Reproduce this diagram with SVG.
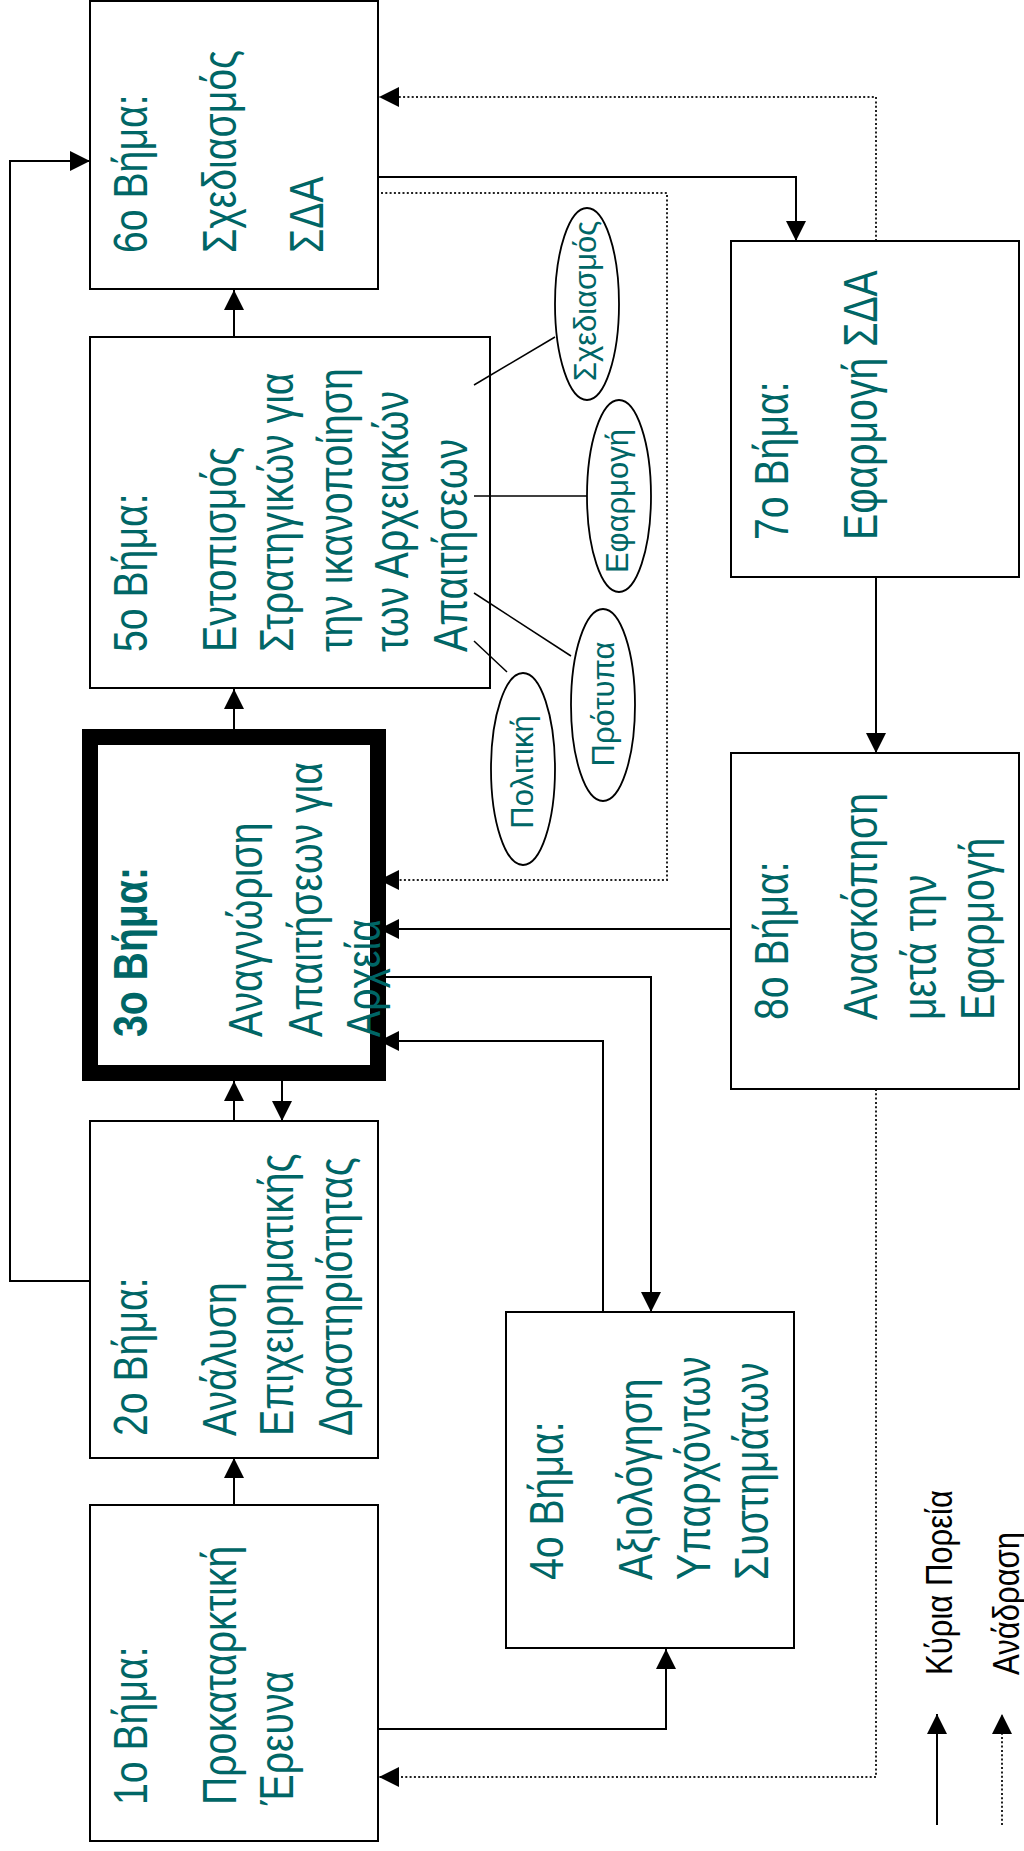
<svg xmlns="http://www.w3.org/2000/svg" width="1024" height="1851" viewBox="0 0 1024 1851">
<defs>
<marker id="ah" markerUnits="userSpaceOnUse" markerWidth="20" markerHeight="20" refX="20" refY="10" orient="auto"><path d="M0,0 L20,10 L0,20 z" fill="#000"/></marker>
<style>
.box{fill:#fff;stroke:#000;stroke-width:2}
.thick{fill:#fff;stroke:#000;stroke-width:16}
.t{font-family:"Liberation Sans",Arial,sans-serif;font-size:49px;fill:#006666}
.b{font-weight:bold}
.e{font-family:"Liberation Sans",Arial,sans-serif;font-size:31px;fill:#006666;text-anchor:middle}
.lg{font-family:"Liberation Sans",Arial,sans-serif;font-size:37px;fill:#000}
.c{fill:none;stroke:#000;stroke-width:2}
.d{fill:none;stroke:#222;stroke-width:2;stroke-dasharray:2 2.3}
.l{fill:none;stroke:#000;stroke-width:1.5}
.ell{fill:#fff;stroke:#000;stroke-width:1.8}
</style>
</defs>
<rect width="1024" height="1851" fill="#fff"/>

<g id="connectors">
<path class="c" d="M234,1505 V1458" marker-end="url(#ah)"/>
<path class="c" d="M234,1121 V1081" marker-end="url(#ah)"/>
<path class="c" d="M282,1081 V1121" marker-end="url(#ah)"/>
<path class="c" d="M234,729 V689" marker-end="url(#ah)"/>
<path class="c" d="M234,337 V290" marker-end="url(#ah)"/>
<path class="c" d="M90,1281 H10 V161 H90" marker-end="url(#ah)"/>
<path class="c" d="M378,177 H796 V241" marker-end="url(#ah)"/>
<path class="c" d="M876,577 V753" marker-end="url(#ah)"/>
<path class="c" d="M731,929 H379" marker-end="url(#ah)"/>
<path class="c" d="M386,977 H651 V1312" marker-end="url(#ah)"/>
<path class="c" d="M603,1312 V1041 H379" marker-end="url(#ah)"/>
<path class="c" d="M378,1729 H666 V1649" marker-end="url(#ah)"/>
<path class="d" d="M876,241 V97 H379" marker-end="url(#ah)"/>
<path class="d" d="M381,193 H667 V880 H379" marker-end="url(#ah)"/>
<path class="d" d="M876,1089 V1777 H379" marker-end="url(#ah)"/>
</g>

<g id="step6">
<rect class="box" x="90" y="1" width="288" height="288"/>
<text class="t" transform="translate(147,253) rotate(-90) scale(0.8,1)">6ο Βήμα:</text>
<text class="t" transform="translate(236,253) rotate(-90) scale(0.8,1)">Σχεδιασμός</text>
<text class="t" transform="translate(323,253) rotate(-90) scale(0.8,1)">ΣΔΑ</text>
</g>

<g id="step5">
<rect class="box" x="90" y="337" width="400" height="351"/>
<text class="t" transform="translate(147,652) rotate(-90) scale(0.8,1)">5ο Βήμα:</text>
<text class="t" transform="translate(236,652) rotate(-90) scale(0.8,1)">Εντοπισμός</text>
<text class="t" transform="translate(293,652) rotate(-90) scale(0.8,1)">Στρατηγικών για</text>
<text class="t" transform="translate(352,652) rotate(-90) scale(0.8,1)">την ικανοποίηση</text>
<text class="t" transform="translate(408,652) rotate(-90) scale(0.8,1)">των Αρχειακών</text>
<text class="t" transform="translate(467,652) rotate(-90) scale(0.8,1)">Απαιτήσεων</text>
</g>

<g id="links">
<path class="l" d="M474,385 L555,337"/>
<path class="l" d="M474,496 L587,496"/>
<path class="l" d="M474,593 L571,656"/>
<path class="l" d="M474,641 L507,672"/>
</g>

<g id="opt-sxediasmos">
<ellipse class="ell" cx="587" cy="304" rx="32" ry="96"/>
<text class="e" transform="translate(596,301) rotate(-90)">Σχεδιασμός</text>
</g>
<g id="opt-efarmogi">
<ellipse class="ell" cx="619" cy="496" rx="32" ry="96"/>
<text class="e" transform="translate(628,501) rotate(-90)">Εφαρμογή</text>
</g>
<g id="opt-protypa">
<ellipse class="ell" cx="603" cy="705" rx="32" ry="96"/>
<text class="e" transform="translate(614,704) rotate(-90)">Πρότυπα</text>
</g>
<g id="opt-politiki">
<ellipse class="ell" cx="523" cy="769" rx="32" ry="96"/>
<text class="e" transform="translate(533,772) rotate(-90)">Πολιτική</text>
</g>

<g id="step3">
<rect class="thick" x="90" y="737" width="288" height="336"/>
<text class="t b" transform="translate(147,1037) rotate(-90) scale(0.8,1)">3ο Βήμα:</text>
<text class="t" transform="translate(262,1037) rotate(-90) scale(0.8,1)">Αναγνώριση</text>
<text class="t" transform="translate(322,1037) rotate(-90) scale(0.8,1)">Απαιτήσεων για</text>
<text class="t" transform="translate(380,1037) rotate(-90) scale(0.8,1)">Αρχεία</text>
</g>

<g id="step2">
<rect class="box" x="90" y="1121" width="288" height="337"/>
<text class="t" transform="translate(147,1436) rotate(-90) scale(0.8,1)">2ο Βήμα:</text>
<text class="t" transform="translate(236,1436) rotate(-90) scale(0.8,1)">Ανάλυση</text>
<text class="t" transform="translate(293,1436) rotate(-90) scale(0.8,1)">Επιχειρηματικής</text>
<text class="t" transform="translate(352,1436) rotate(-90) scale(0.8,1)">Δραστηριότητας</text>
</g>

<g id="step1">
<rect class="box" x="90" y="1505" width="288" height="336"/>
<text class="t" transform="translate(147,1805) rotate(-90) scale(0.8,1)">1ο Βήμα:</text>
<text class="t" transform="translate(236,1805) rotate(-90) scale(0.8,1)">Προκαταρκτική</text>
<text class="t" transform="translate(293,1805) rotate(-90) scale(0.8,1)">Έρευνα</text>
</g>

<g id="step4">
<rect class="box" x="506" y="1312" width="288" height="336"/>
<text class="t" transform="translate(563,1580) rotate(-90) scale(0.8,1)">4ο Βήμα:</text>
<text class="t" transform="translate(652,1580) rotate(-90) scale(0.8,1)">Αξιολόγηση</text>
<text class="t" transform="translate(710,1580) rotate(-90) scale(0.8,1)">Υπαρχόντων</text>
<text class="t" transform="translate(768,1580) rotate(-90) scale(0.8,1)">Συστημάτων</text>
</g>

<g id="step7">
<rect class="box" x="731" y="241" width="288" height="336"/>
<text class="t" transform="translate(788,540) rotate(-90) scale(0.8,1)">7ο Βήμα:</text>
<text class="t" transform="translate(877,540) rotate(-90) scale(0.8,1)">Εφαρμογή ΣΔΑ</text>
</g>

<g id="step8">
<rect class="box" x="731" y="753" width="288" height="336"/>
<text class="t" transform="translate(788,1020) rotate(-90) scale(0.8,1)">8ο Βήμα:</text>
<text class="t" transform="translate(877,1020) rotate(-90) scale(0.8,1)">Ανασκόπηση</text>
<text class="t" transform="translate(936,1020) rotate(-90) scale(0.8,1)">μετά την</text>
<text class="t" transform="translate(994,1020) rotate(-90) scale(0.8,1)">Εφαρμογή</text>
</g>

<g id="legend">
<path class="c" d="M937,1825 V1714" marker-end="url(#ah)"/>
<path class="d" d="M1002,1825 V1714" marker-end="url(#ah)"/>
<text class="lg" transform="translate(952,1675) rotate(-90) scale(0.84,1)">Κύρια Πορεία</text>
<text class="lg" transform="translate(1019,1675) rotate(-90) scale(0.84,1)">Ανάδραση</text>
</g>
</svg>
